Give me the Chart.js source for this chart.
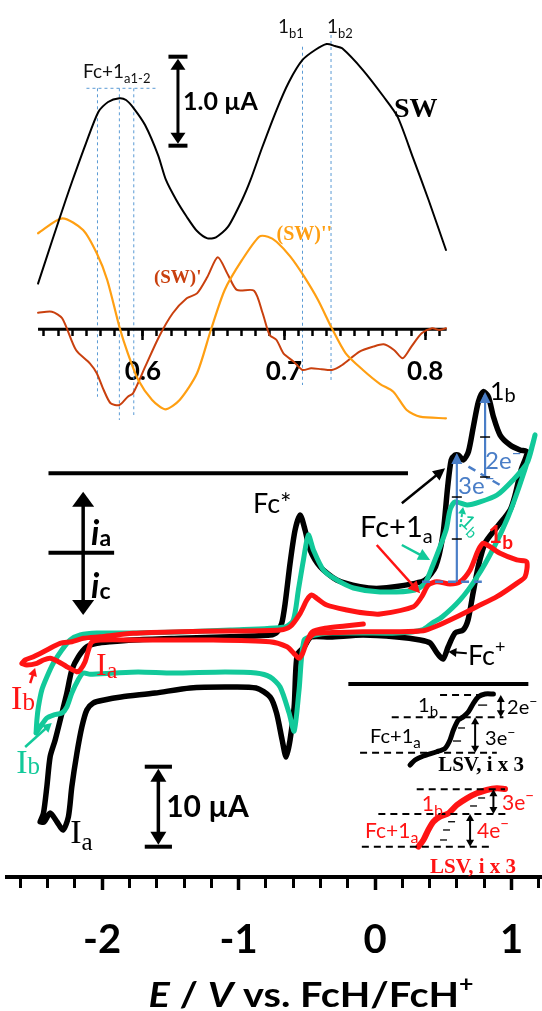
<!DOCTYPE html>
<html><head><meta charset="utf-8">
<script src="https://cdn.jsdelivr.net/npm/chart.js@4.4.1/dist/chart.umd.min.js"></script>
<style>html,body{margin:0;padding:0;background:#fff;}canvas{display:block;}</style>
</head><body>
<canvas id="c" width="542" height="1011"></canvas>
<script>
// ================= DATA =================
// Top panel: square-wave voltammogram (SW) and derivatives, E / V, i / µA (traces offset as plotted)
const swE = [0.5258,0.5357,0.5454,0.5503,0.5598,0.5686,0.5754,0.5834,0.5881,0.5936,0.6016,0.6108,0.6164,0.6237,0.6311,0.6384,0.6458,0.6518,0.6604,0.6703,0.6763,0.6844,0.6947,0.7035,0.7131,0.7220,0.7302,0.7361,0.7412,0.7559,0.7706,0.7804,0.7914,0.8024,0.8147];
const swI = [0.513,0.992,1.453,1.678,2.093,2.445,2.554,2.596,2.576,2.483,2.295,1.958,1.678,1.453,1.265,1.104,1.022,1.034,1.153,1.453,1.678,2.037,2.464,2.779,3.026,3.138,3.206,3.183,3.157,2.913,2.613,2.389,1.925,1.453,0.891];
const swD1E = [0.5258,0.5356,0.5429,0.5527,0.5625,0.5674,0.5723,0.5772,0.5834,0.5894,0.5931,0.6017,0.6115,0.6212,0.6311,0.6384,0.6458,0.6531,0.6604,0.6666,0.6788,0.6849,0.6898,0.6947,0.6996,0.7069,0.7131,0.7192,0.7266,0.7339,0.7412,0.7535,0.7632,0.7706,0.7779,0.7841,0.7902,0.7975,0.8049,0.8098,0.8147];
const swD1I = [0.187,0.198,0.124,-0.233,-0.382,-0.494,-0.682,-0.831,-0.851,-0.757,-0.719,-0.420,-0.083,0.180,0.348,0.404,0.591,0.809,0.610,0.442,0.434,0.180,-0.064,-0.120,-0.270,-0.364,-0.457,-0.438,-0.449,-0.457,-0.401,-0.251,-0.195,-0.169,-0.232,-0.326,-0.195,-0.045,0.011,-0.008,0.011];
const swD2E = [0.5258,0.5429,0.5577,0.5674,0.5748,0.5834,0.5894,0.5968,0.6066,0.6159,0.6261,0.6384,0.6482,0.6580,0.6703,0.6824,0.6886,0.6947,0.7045,0.7143,0.7241,0.7339,0.7437,0.7559,0.7681,0.7774,0.7869,0.7963,0.8147];
const swD2I = [1.079,1.247,1.116,0.854,0.554,0.029,-0.270,-0.570,-0.794,-0.899,-0.794,-0.494,-0.008,0.442,0.779,1.040,1.040,0.984,0.816,0.591,0.329,0.011,-0.270,-0.457,-0.615,-0.701,-0.907,-0.982,-1.0];
const swTicks = [0.53,0.54,0.55,0.56,0.57,0.58,0.59,0.60,0.61,0.62,0.63,0.64,0.65,0.66,0.67,0.68,0.69,0.70,0.71,0.72,0.73,0.74,0.75,0.76,0.77,0.78,0.79,0.80,0.81];
const swMajorTicks = [0.6,0.7,0.8];
const swTickLabels = ['0.6','0.7','0.8'];
const swAxisRange = [0.5258,0.8152];
// dashed peak guides: [E, upper i, lower i]
const swGuides = [[0.5679,2.708,-0.757],[0.5834,2.708,-1.019],[0.5936,2.708,-0.963],[0.7131,3.175,-0.626],[0.7333,3.307,-0.589]];
const swGuideH = [0.5601,0.6103,2.708];

// Bottom panel: cyclic voltammograms, E / V vs FcH/FcH+, i / µA
const cvBlackE = [-2.454,-2.430,-2.405,-2.381,-2.344,-2.295,-2.259,-2.222,-2.174,-2.112,-2.039,-1.941,-1.771,-1.429,-1.062,-0.769,-0.718,-0.684,-0.659,-0.623,-0.586,-0.549,-0.513,-0.476,-0.403,-0.281,-0.110,0.037,0.292,0.368,0.443,0.495,0.532,0.558,0.586,0.610,0.647,0.684,0.720,0.757,0.793,0.830,0.867,0.916,0.989,1.062,1.114,
 1.070,1.026,0.989,0.894,0.806,0.755,0.718,0.681,0.645,0.586,0.535,0.498,0.454,0.403,0.330,0.161,-0.088,-0.330,-0.469,-0.520,-0.571,-0.593,-0.623,-0.652,-0.681,-0.722,-0.769,-0.872,-1.099,-1.355,-1.612,-1.861,-1.985,-2.066,-2.112,-2.148,-2.185,-2.222,-2.247,-2.286,-2.330,-2.381,-2.425,-2.454];
const cvBlackI = [-33.63,-32.58,-29.25,-25.5,-23.41,-20.08,-17.58,-14.66,-13.0,-11.75,-11.33,-11.13,-10.91,-10.7,-10.5,-10.29,-9.91,-8.83,-6.33,-1.33,2.84,4.71,2.84,0.34,-1.75,-3.41,-4.25,-4.45,-3.83,-3.41,-1.75,2.0,8.25,11.59,12.21,12.21,11.59,12.63,15.75,18.88,20.13,19.5,17.0,14.71,13.46,12.84,12.59,
 10.34,7.21,5.34,3.21,1.21,-1.79,-5.04,-8.41,-9.66,-10.04,-11.79,-13.29,-12.54,-11.29,-10.91,-10.54,-10.29,-10.54,-10.54,-11.79,-12.79,-19.29,-23.41,-25.54,-23.41,-20.04,-18.04,-16.91,-16.79,-16.91,-17.54,-18.04,-18.41,-18.79,-19.66,-21.75,-25.08,-29.25,-33.0,-34.66,-33.66,-32.54,-33.66,-33.63];
const cvGreenE = [-2.484,-2.478,-2.467,-2.442,-2.405,-2.357,-2.295,-2.234,-2.161,-2.039,-1.773,-1.429,-1.062,-0.659,-0.599,-0.562,-0.525,-0.489,-0.452,-0.379,-0.281,-0.159,0.037,0.293,0.366,0.418,0.520,0.549,0.586,0.674,0.769,0.894,1.011,1.114,1.158,1.172,
 1.136,1.055,0.974,0.872,0.747,0.623,0.491,0.418,0.344,0.161,-0.088,-0.330,-0.440,-0.520,-0.557,-0.593,-0.630,-0.696,-0.769,-0.872,-1.099,-1.480,-1.736,-1.912,-2.088,-2.139,-2.176,-2.222,-2.259,-2.295,-2.357,-2.405,-2.454,-2.484];
const cvGreenI = [-22.54,-20.91,-19.29,-17.16,-15.54,-13.79,-12.16,-10.91,-10.29,-10.04,-10.04,-9.91,-9.66,-9.29,-8.41,-4.66,-0.91,2.21,0.34,-2.16,-3.41,-4.41,-4.91,-4.66,-3.79,-1.79,2.84,5.34,6.34,5.96,6.34,7.21,9.09,11.21,13.71,14.71,
 12.46,8.21,4.46,0.71,-3.04,-5.91,-8.04,-8.79,-9.66,-10.04,-10.04,-10.04,-10.29,-10.91,-17.16,-22.29,-20.04,-16.79,-15.54,-15.04,-14.91,-15.04,-14.91,-15.04,-15.2,-15.04,-15.91,-17.54,-19.29,-20.04,-20.29,-20.66,-21.79,-22.54];
const cvRedE = [-2.588,-2.564,-2.503,-2.405,-2.308,-2.222,-2.137,-2.015,-1.773,-1.429,-1.062,-0.696,-0.623,-0.549,-0.500,-0.464,-0.427,-0.354,-0.207,-0.061,0.037,0.281,0.342,0.390,0.452,0.549,0.623,0.696,0.757,0.793,0.842,0.916,1.038,1.111,
 1.099,1.038,0.892,0.745,0.599,0.452,0.354,0.159,-0.086,-0.330,-0.442,-0.494,-0.531,-0.557,-0.595,-0.645,-0.772,-1.228,-1.734,-2.015,-2.076,-2.100,-2.125,-2.161,-2.185,-2.259,-2.320,-2.381,-2.430,-2.478,-2.552,-2.588];
const cvRedI = [-13.83,-13.41,-13.0,-12.16,-11.33,-11.13,-10.7,-10.5,-10.08,-9.88,-9.79,-9.66,-9.25,-7.58,-5.91,-5.29,-5.70,-6.54,-7.16,-7.58,-7.66,-6.75,-5.5,-4.04,-3.63,-3.91,-3.63,-2.16,0.34,1.18,0.75,-0.08,-0.91,-1.13,
 -3.0,-3.83,-5.5,-6.75,-8.0,-9.16,-9.75,-9.88,-9.88,-10.0,-10.08,-10.91,-12.58,-13.2,-12.58,-11.75,-11.13,-10.91,-10.91,-10.91,-11.18,-12.16,-13.63,-14.66,-14.88,-14.25,-13.63,-13.2,-13.41,-13.83,-14.04,-13.83];
const cvRedInitE = [-0.086,-0.220,-0.366,-0.462,-0.494];
const cvRedInitI = [-8.91,-9.16,-9.45,-9.91,-10.91];
// LSV insets (i x 3, offset)
const lsvBlackE = [0.256,0.293,0.354,0.452,0.513,0.549,0.574,0.610,0.647,0.684,0.720,0.757,0.806,0.867];
const lsvBlackI = [-26.54,-25.91,-25.41,-24.88,-24.45,-23.41,-22.16,-20.91,-20.5,-19.88,-18.83,-18.0,-17.66,-17.66];
const lsvRedE = [0.317,0.354,0.390,0.427,0.476,0.537,0.599,0.672,0.745,0.818,0.892,0.952];
const lsvRedI = [-36.75,-35.91,-34.66,-33.63,-33.0,-32.58,-31.54,-30.7,-30.08,-29.66,-29.45,-29.54];
// LSV plateau levels [E from, E to, i] and small electron-count tick marks [E from, E to, i]
const lsvBlackLevels = [[0.476,0.916,-17.79],[0.122,0.940,-20.58],[-0.110,0.892,-25.0]];
const lsvRedLevels = [[0.305,0.952,-29.58],[0.024,0.977,-32.66],[-0.097,0.842,-36.75]];
const lsvBlackMarks = [[0.755,0.821,-19.05],[0.608,0.659,-21.91],[0.571,0.630,-23.54]];
const lsvRedMarks = [[0.755,0.806,-30.66],[0.696,0.747,-31.66],[0.535,0.586,-33.63],[0.498,0.549,-34.66],[0.476,0.527,-35.91]];
const cvTicks = [-2.6,-2.4,-2.2,-2.0,-1.8,-1.6,-1.4,-1.2,-1.0,-0.8,-0.6,-0.4,-0.2,0,0.2,0.4,0.6,0.8,1.0,1.2];
const cvMajorTicks = [-2,-1,0,1];
const cvTickLabels = ['-2','-1','0','1'];

// ================= HELPERS =================
const pts = (E, I) => E.map((e, k) => ({x: e, y: I[k]}));
const SANS = 'Lato, "Open Sans", sans-serif';
const SERIF = '"Liberation Serif", "DejaVu Serif", serif';
const F = (w, s, fam) => `${w} ${s}px ${fam || SANS}`;
const BLACK = '#000000', GREEN = '#12C99A', RED = '#FF1414', BLUE = '#4A7EC7', GUIDE = '#5B9BD5';
const ORANGE = '#FF9F12', BROWN = '#C9400E';

function seg(ctx, a, b, color, w, dash) {
  ctx.save(); ctx.strokeStyle = color; ctx.lineWidth = w; ctx.setLineDash(dash || []);
  ctx.lineCap = 'butt'; ctx.beginPath(); ctx.moveTo(a[0], a[1]); ctx.lineTo(b[0], b[1]); ctx.stroke(); ctx.restore();
}
function tri(ctx, tip, from, color, len, half) {
  const ang = Math.atan2(tip[1] - from[1], tip[0] - from[0]);
  const bx = tip[0] - len * Math.cos(ang), by = tip[1] - len * Math.sin(ang);
  ctx.save(); ctx.fillStyle = color; ctx.beginPath(); ctx.moveTo(tip[0], tip[1]);
  ctx.lineTo(bx + half * Math.sin(ang), by - half * Math.cos(ang));
  ctx.lineTo(bx - half * Math.sin(ang), by + half * Math.cos(ang));
  ctx.closePath(); ctx.fill(); ctx.restore();
}
function arrow(ctx, a, b, color, w, len, half, both, dash) {
  const ang = Math.atan2(b[1] - a[1], b[0] - a[0]);
  const b2 = [b[0] - len * 0.7 * Math.cos(ang), b[1] - len * 0.7 * Math.sin(ang)];
  const a2 = both ? [a[0] + len * 0.7 * Math.cos(ang), a[1] + len * 0.7 * Math.sin(ang)] : a;
  seg(ctx, a2, b2, color, w, dash);
  tri(ctx, b, a, color, len, half);
  if (both) tri(ctx, a, b, color, len, half);
}
function scaleBar(ctx, x, y1, y2, capHalf, color, capW, shaftW, len, half) {
  seg(ctx, [x - capHalf, y1], [x + capHalf, y1], color, capW);
  seg(ctx, [x - capHalf, y2], [x + capHalf, y2], color, capW);
  arrow(ctx, [x, y1 + capW / 2], [x, y2 - capW / 2], color, shaftW, len, half, true);
}
function rich(ctx, x, y, parts, color, opts) {
  opts = opts || {};
  ctx.save(); ctx.translate(x, y); if (opts.rot) ctx.rotate(opts.rot);
  ctx.fillStyle = color; ctx.textBaseline = 'alphabetic'; ctx.textAlign = 'left';
  let w = 0;
  for (const p of parts) { ctx.font = p[1]; w += ctx.measureText(p[0]).width; }
  if (opts.width) { ctx.scale(opts.width / w, 1); }
  let cx = opts.center ? -w / 2 : 0;
  for (const p of parts) { ctx.font = p[1]; ctx.fillText(p[0], cx, p[2] || 0); cx += ctx.measureText(p[0]).width; }
  ctx.restore();
}
const eMinus = (num, size, w) => [[num + 'e', F(w, size)], ['\u2212', F(w, Math.round(size * 0.7)), -size * 0.42]];

const annotations = {
  id: 'annotations',
  afterDatasetsDraw(chart) {
    const ctx = chart.ctx;
    const X = chart.scales.x, Y = chart.scales.y, XS = chart.scales.xs, YS = chart.scales.ys;
    const P = (e, i) => [X.getPixelForValue(e), Y.getPixelForValue(i)];
    const Q = (e, i) => [XS.getPixelForValue(e), YS.getPixelForValue(i)];
    const T = (p, parts, color, opts) => rich(ctx, p[0], p[1], parts, color, opts);

    // ---- top panel labels ----
    T(Q(0.5577, 2.824), [['Fc+1', F('normal', 19)], ['a1-2', F('normal', 13), 5]], '#111');
    T(Q(0.6957, 3.329), [['1', F('normal', 19)], ['b1', F('normal', 13), 5]], '#111');
    T(Q(0.7305, 3.329), [['1', F('normal', 19)], ['b2', F('normal', 13), 5]], '#111');
    const sb1 = Q(0.6249, 3.063), sb2 = Q(0.6249, 2.063);
    scaleBar(ctx, sb1[0], sb1[1], sb2[1], 9.5, BLACK, 4, 3, 11, 7.5);
    T(Q(0.6285, 2.464), [['1.0 \u00b5A', F('bold', 25)]], BLACK);
    T(Q(0.7779, 2.385), [['SW', F('bold', 28, SERIF)]], BLACK);
    T(Q(0.6947, 1.003), [["(SW)''", F('bold', 20, SERIF)]], ORANGE);
    T(Q(0.6079, 0.520), [["(SW)'", F('bold', 19, SERIF)]], BROWN);

    // ---- bottom panel decorations ----
    seg(ctx, P(-2.393, 9.93), P(0.241, 9.93), BLACK, 4);
    seg(ctx, P(-0.196, -16.41), P(1.123, -16.41), BLACK, 4);
    arrow(ctx, P(-2.139, 7.63), P(-2.139, -7.79), BLACK, 3.5, 15, 11, true);
    seg(ctx, P(-2.393, 0), P(-1.912, 0), BLACK, 4);
    T(P(-2.081, 0.96), [['i', F('italic bold', 34)], ['a', F('bold', 23), 1]], BLACK);
    T(P(-2.081, -5.66), [['i', F('italic bold', 34)], ['c', F('bold', 23), 1]], BLACK);
    const sb3 = P(-1.588, -26.75), sb4 = P(-1.588, -36.75);
    scaleBar(ctx, sb3[0], sb3[1], sb4[1], 13.6, BLACK, 4, 3.5, 13, 8);
    T(P(-1.531, -32.98), [['10 \u00b5A', F('bold', 30)]], BLACK);

    // peak labels
    T(P(-0.894, 4.96), [['Fc*', F('normal', 27)]], BLACK);
    T(P(-0.110, 2.0), [['Fc+1', F('normal', 29)], ['a', F('normal', 20), 6]], BLACK);
    T(P(0.842, 19.09), [['1', F('normal', 25)], ['b', F('normal', 20), 2]], BLACK);
    T(P(0.830, 1.25), [['1', F('bold', 24)], ['b', F('bold', 19), 6]], RED);
    T(P(0.681, -14.04), [['Fc', F('normal', 27)], ['+', F('normal', 18), -12]], BLACK);
    arrow(ctx, P(0.672, -12.58), P(0.537, -12.38), BLACK, 2, 8, 4.5);
    arrow(ctx, P(0.196, 6.18), P(0.513, 10.55), BLACK, 2.5, 12, 6);
    arrow(ctx, P(0.196, 0.96), P(0.403, -0.91), GREEN, 2.5, 12, 6);
    arrow(ctx, P(0.012, 0.96), P(0.330, -5.08), RED, 2.5, 12, 6);

    // electron-count arrows on the CV
    arrow(ctx, P(0.599, -3.63), P(0.599, 12.46), BLUE, 2.2, 11, 5.5);
    arrow(ctx, P(0.806, 9.46), P(0.806, 20.09), BLUE, 2.2, 11, 5.5);
    seg(ctx, P(0.344, -3.63), P(0.782, -3.63), BLUE, 2.5, [8, 5]);
    seg(ctx, P(0.684, 10.75), P(0.916, 8.46), BLUE, 2.5, [8, 6]);
    for (const t of [[0.599, 6.96], [0.599, 1.71], [0.806, 14.46], [0.806, 9.46]]) {
      const c = P(t[0], t[1]); seg(ctx, [c[0] - 5, c[1]], [c[0] + 5, c[1]], BLACK, 1.5);
    }
    T(P(0.806, 10.46), eMinus('2', 24, 'normal'), BLUE);
    T(P(0.608, 7.34), eMinus('3', 24, 'normal'), BLUE);
    T(P(0.615, 3.71), [['1', F('normal', 20)], ['b', F('normal', 15), 4]], GREEN, {rot: 0.75});
    arrow(ctx, P(0.623, 3.21), P(0.645, 5.71), GREEN, 2, 7, 4, false, [3, 2]);

    // I labels
    T(P(-2.234, -36.29), [['I', F('normal', 34, SERIF)], ['a', F('normal', 25, SERIF), 7]], BLACK);
    T(P(-2.044, -15.29), [['I', F('normal', 32, SERIF)], ['a', F('normal', 24, SERIF), 3]], RED);
    T(P(-2.667, -19.54), [['I', F('normal', 34, SERIF)], ['b', F('normal', 25, SERIF), 1]], RED);
    T(P(-2.630, -27.54), [['I', F('normal', 34, SERIF)], ['b', F('normal', 25, SERIF), 1]], GREEN);
    arrow(ctx, P(-2.527, -16.29), P(-2.491, -14.41), RED, 2.5, 8, 4.5);
    arrow(ctx, P(-2.564, -24.29), P(-2.369, -21.29), GREEN, 2.5, 9, 5);

    // LSV insets
    for (const L of lsvBlackLevels.concat(lsvRedLevels)) seg(ctx, P(L[0], L[2]), P(L[1], L[2]), BLACK, 2, [7, 5]);
    for (const M of lsvBlackMarks.concat(lsvRedMarks)) seg(ctx, P(M[0], M[2]), P(M[1], M[2]), BLACK, 1.3);
    arrow(ctx, P(0.921, -17.79), P(0.921, -20.58), BLACK, 2, 7, 4, true);
    arrow(ctx, P(0.733, -20.58), P(0.733, -25.0), BLACK, 2, 7, 4, true);
    arrow(ctx, P(0.867, -29.58), P(0.867, -32.66), BLACK, 2, 7, 4, true);
    arrow(ctx, P(0.696, -32.66), P(0.696, -36.75), BLACK, 2, 7, 4, true);
    T(P(-0.037, -23.79), [['Fc+1', F('normal', 20)], ['a', F('normal', 15), 5]], BLACK);
    T(P(0.315, -19.91), [['1', F('normal', 20)], ['b', F('normal', 15), 5]], BLACK);
    T(P(0.967, -20.17), eMinus('2', 20, 'normal'), BLACK);
    T(P(0.806, -24.04), eMinus('3', 20, 'normal'), BLACK);
    T(P(0.462, -27.29), [['LSV, i x 3', F('bold', 21, SERIF)]], BLACK);
    T(P(0.342, -32.29), [['1', F('normal', 21)], ['b', F('normal', 16), 5]], RED);
    T(P(0.930, -32.16), eMinus('3', 21, 'normal'), RED);
    T(P(-0.073, -35.66), [['Fc+1', F('normal', 21)], ['a', F('normal', 16), 5]], RED);
    T(P(0.747, -35.66), eMinus('4', 21, 'normal'), RED);
    T(P(0.403, -40.04), [['LSV, i x 3', F('bold', 21, SERIF)]], RED);

    // x-axis title
    T(P(-0.469, -56.73), [['E', F('italic bold', 35)], [' / ', F('bold', 35)], ['V', F('italic bold', 35)],
      [' vs. FcH/FcH', F('bold', 35)], ['+', F('bold', 22), -15]], BLACK, {center: true, width: 325});
  }
};

const lineDs = (data, color, width, extra) => Object.assign({
  data, borderColor: color, backgroundColor: color, borderWidth: width, pointRadius: 0,
  tension: 0.25, fill: false, borderCapStyle: 'round', borderJoinStyle: 'round'
}, extra || {});
const topAxes = {xAxisID: 'xs', yAxisID: 'ys'};

const datasets = [
  lineDs(pts(cvRedE, cvRedI), RED, 5, {order: 1}),
  lineDs(pts(cvRedInitE, cvRedInitI), RED, 5, {order: 1}),
  lineDs(pts(lsvRedE, lsvRedI), RED, 6, {order: 1}),
  lineDs(pts(cvGreenE, cvGreenI), GREEN, 5, {order: 2}),
  lineDs(pts(cvBlackE, cvBlackI), BLACK, 5.5, {order: 3}),
  lineDs(pts(lsvBlackE, lsvBlackI), BLACK, 5, {order: 3}),
  lineDs(pts(swE, swI), BLACK, 2, Object.assign({order: 4}, topAxes)),
  lineDs(pts(swD2E, swD2I), ORANGE, 2.2, Object.assign({order: 4}, topAxes)),
  lineDs(pts(swD1E, swD1I), BROWN, 2, Object.assign({order: 4}, topAxes)),
  lineDs([{x: swAxisRange[0], y: 0}, {x: swAxisRange[1], y: 0}], BLACK, 3, Object.assign({order: 5, tension: 0, borderCapStyle: 'butt'}, topAxes)),
  lineDs([{x: swGuideH[0], y: swGuideH[2]}, {x: swGuideH[1], y: swGuideH[2]}], GUIDE, 1, Object.assign({order: 6, tension: 0, borderDash: [3, 3], borderCapStyle: 'butt'}, topAxes))
].concat(swGuides.map(g => lineDs([{x: g[0], y: g[1]}, {x: g[0], y: g[2]}], GUIDE, 1,
  Object.assign({order: 6, tension: 0, borderDash: [3, 3], borderCapStyle: 'butt'}, topAxes))));

const tickSet = (vals) => (axis) => { axis.ticks = vals.map(v => ({value: v})); };
const labelFor = (majors, labels) => (v) => { const k = majors.findIndex(m => Math.abs(m - v) < 1e-6); return k >= 0 ? labels[k] : ''; };

new Chart(document.getElementById('c'), {
  type: 'line',
  data: {datasets},
  options: {
    responsive: false, animation: false, devicePixelRatio: 1,
    layout: {autoPadding: false, padding: {left: 7, right: 0, top: 0, bottom: 0}},
    plugins: {legend: {display: false}, tooltip: {enabled: false}, title: {display: false}},
    scales: {
      x: {type: 'linear', axis: 'x', min: -2.697, max: 1.223, position: {y: -40.5},
        afterBuildTicks: tickSet(cvTicks),
        ticks: {autoSkip: false, maxRotation: 0, minRotation: 0, padding: 2, color: BLACK,
          font: {family: SANS, size: 40, weight: 'bold', lineHeight: 2.6}, callback: labelFor(cvMajorTicks, cvTickLabels)},
        grid: {drawOnChartArea: false, drawTicks: true, tickLength: 9, tickWidth: 3, tickColor: BLACK},
        border: {display: true, color: BLACK, width: 4}},
      xMaj: {type: 'linear', axis: 'x', min: -2.697, max: 1.223, position: {y: -40.5},
        afterBuildTicks: tickSet(cvMajorTicks),
        ticks: {display: false, autoSkip: false},
        grid: {drawOnChartArea: false, drawTicks: true, tickLength: 13, tickWidth: 3.5, tickColor: BLACK},
        border: {display: false}},
      y: {type: 'linear', axis: 'y', min: -57.2875, max: 69.0875, display: false},
      xs: {type: 'linear', axis: 'x', min: 0.50382, max: 0.88272, position: {ys: 0},
        afterBuildTicks: tickSet(swTicks),
        ticks: {autoSkip: false, maxRotation: 0, minRotation: 0, padding: 20, color: BLACK,
          font: {family: SANS, size: 26, weight: 'bold'}, callback: labelFor(swMajorTicks, swTickLabels)},
        grid: {drawOnChartArea: false, drawTicks: true, tickLength: 7, tickWidth: 2.5, tickColor: BLACK},
        border: {display: false}},
      xsMaj: {type: 'linear', axis: 'x', min: 0.50382, max: 0.88272, position: {ys: 0},
        afterBuildTicks: tickSet(swMajorTicks),
        ticks: {display: false, autoSkip: false},
        grid: {drawOnChartArea: false, drawTicks: true, tickLength: 11, tickWidth: 2.5, tickColor: BLACK},
        border: {display: false}},
      ys: {type: 'linear', axis: 'y', min: -7.6596, max: 3.7, display: false}
    }
  },
  plugins: [annotations]
});
</script>
</body></html>
